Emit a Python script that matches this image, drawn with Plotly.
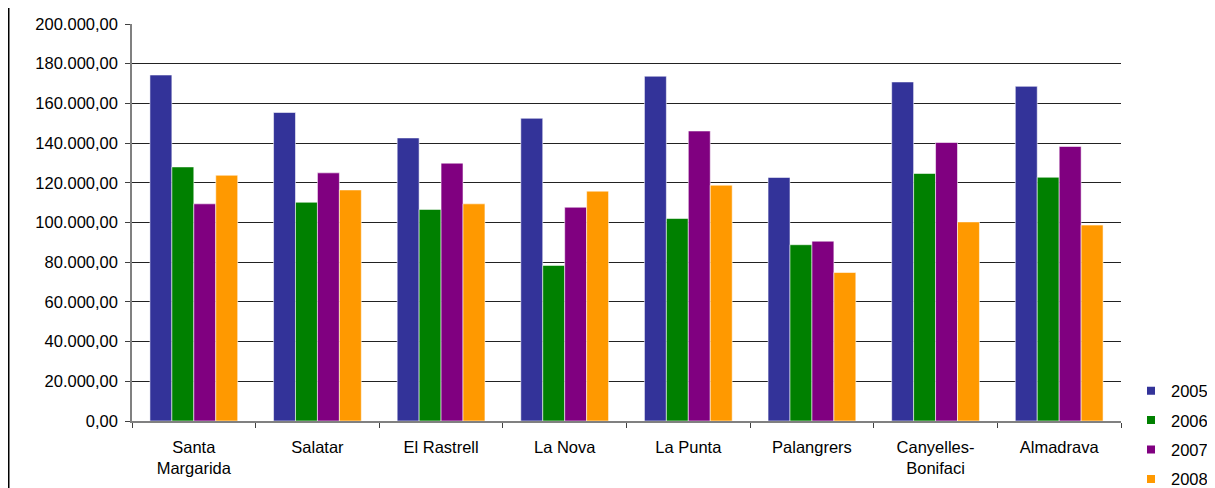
import plotly.graph_objects as go

categories = ["Santa<br>Margarida", "Salatar", "El Rastrell", "La Nova", "La Punta",
              "Palangrers", "Canyelles-<br>Bonifaci", "Almadrava"]
years = ["2005", "2006", "2007", "2008"]
v2005 = [174300, 155400, 142600, 152500, 173700, 122700, 170800, 168600]
v2006 = [128000, 110200, 106600, 78400, 102000, 88800, 124700, 122800]
v2007 = [109400, 125000, 129900, 107700, 146100, 90600, 140300, 138300]
v2008 = [123800, 116400, 109400, 115800, 118800, 74800, 100300, 98700]
series = [v2005, v2006, v2007, v2008]
colors = ["#333399", "#008000", "#800080", "#FF9900"]
y_ticks = [0, 20000, 40000, 60000, 80000, 100000, 120000, 140000, 160000, 180000, 200000]

fig = go.Figure()
for name, vals, col in zip(years, series, colors):
    fig.add_trace(go.Bar(
        x=categories, y=vals, name=name, legendgroup=name, showlegend=False,
        marker=dict(color=col, line=dict(color="rgba(255,255,255,0.55)", width=1)),
    ))
# legend entries (small square swatches like the original)
for name, col in zip(years, colors):
    fig.add_trace(go.Scatter(
        x=[None], y=[None], mode="markers", name=name, legendgroup=name,
        marker=dict(symbol="square", size=8, color=col),
    ))

W, H = 1215, 488
l, r, t, b = 124, 102, 16, 75
pw = W - l - r
fig.update_layout(
    width=W, height=H,
    margin=dict(l=l, r=r, t=t, b=b, pad=0, autoexpand=False),
    paper_bgcolor="white", plot_bgcolor="white",
    barmode="group", bargap=0.29, bargroupgap=0,
    separators=",.",
    font=dict(family="Liberation Sans, Arial, sans-serif", size=16.5, color="#000000"),
    showlegend=True,
    legend=dict(x=(1123 - l) / pw, xanchor="left", y=-0.19, yanchor="bottom",
                font=dict(size=16.5, color="#000000"),
                traceorder="grouped", tracegroupgap=5,
                itemwidth=30, bgcolor="rgba(0,0,0,0)"),
    xaxis=dict(showline=True, linecolor="#808080", linewidth=1.5,
               ticks="outside", tickson="boundaries", ticklen=5, tickcolor="#404040",
               tickfont=dict(size=16.5), ticklabelstandoff=10, showgrid=False),
    yaxis=dict(range=[0, 200000], tickvals=y_ticks, tickformat=",.2f",
               showline=True, linecolor="#808080", linewidth=1.5,
               ticks="outside", ticklen=5, tickcolor="#404040",
               showgrid=True, gridcolor="#222222", gridwidth=1,
               zeroline=False, tickfont=dict(size=16.5), ticklabelstandoff=4),
    shapes=[dict(type="line", xref="paper", yref="paper",
                 x0=(0.75 - l) / pw, x1=(0.75 - l) / pw,
                 y0=-1, y1=2, line=dict(color="#000000", width=1.5))],
)
fig.write_html("out.html")
